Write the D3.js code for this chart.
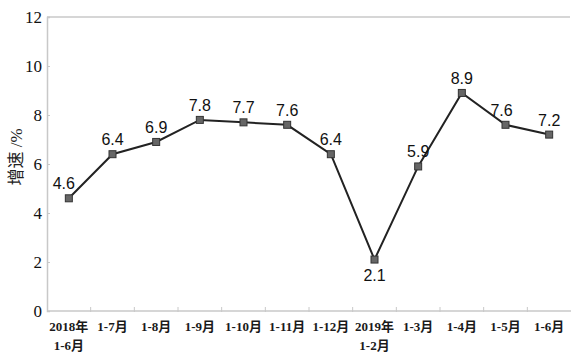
<!DOCTYPE html>
<html>
<head>
<meta charset="utf-8">
<script src="https://cdn.jsdelivr.net/npm/d3@7/dist/d3.min.js"></script>
<style>
  html, body { margin: 0; padding: 0; background: #fff; }
  svg { display: block; }
</style>
</head>
<body>
<svg id="chart" width="572" height="359"></svg>
<script>
// Cumulative growth rate by period
const periods = [
  ["2018年", "1-6月"], ["1-7月"], ["1-8月"], ["1-9月"], ["1-10月"], ["1-11月"],
  ["1-12月"], ["2019年", "1-2月"], ["1-3月"], ["1-4月"], ["1-5月"], ["1-6月"]
];
const growth = [4.6, 6.4, 6.9, 7.8, 7.7, 7.6, 6.4, 2.1, 5.9, 8.9, 7.6, 7.2];
const yTicks = [0, 2, 4, 6, 8, 10, 12];

const svg = d3.select("#chart");
const plot = { left: 47, right: 571, top: 17, bottom: 311 };

const x = d3.scaleBand().domain(d3.range(periods.length)).range([plot.left, plot.right]);
const y = d3.scaleLinear().domain([0, 12]).range([plot.bottom, plot.top]);
const cx = i => x(i) + x.bandwidth() / 2;

const axisColor = "#c8c8c8";
const serif = "'Liberation Serif', 'Noto Sans CJK SC', serif";

// top frame line
svg.append("line")
  .attr("x1", plot.left).attr("x2", plot.right - 1)
  .attr("y1", y(12)).attr("y2", y(12))
  .attr("stroke", axisColor).attr("stroke-width", 1.5);

// y axis
const yAxis = svg.append("g")
  .attr("transform", `translate(${plot.left},0)`)
  .call(d3.axisRight(y).tickValues(yTicks).tickSize(3).tickFormat(""));
yAxis.select(".domain").attr("stroke", axisColor).attr("stroke-width", 1.5);
yAxis.selectAll(".tick line").attr("stroke", axisColor);

svg.append("g").selectAll("text").data(yTicks).join("text")
  .attr("x", 42).attr("y", d => y(d))
  .attr("dy", "0.35em")
  .attr("text-anchor", "end")
  .attr("font-family", serif)
  .attr("font-size", 17)
  .attr("fill", "#111")
  .text(d => d);

// y axis title
svg.append("text")
  .attr("transform", "translate(22,157) rotate(-90)")
  .attr("text-anchor", "middle")
  .attr("font-family", serif)
  .attr("font-size", 17)
  .attr("fill", "#222")
  .text("增速 /%");

// x axis with ticks on the category boundaries
const xAxis = svg.append("g")
  .attr("transform", `translate(0,${plot.bottom})`);
xAxis.append("line")
  .attr("x1", plot.left).attr("x2", plot.right)
  .attr("stroke", axisColor).attr("stroke-width", 1.5);
xAxis.selectAll("line.tk").data(d3.range(1, periods.length)).join("line")
  .attr("class", "tk")
  .attr("x1", i => x(i)).attr("x2", i => x(i))
  .attr("y1", -4).attr("y2", 1)
  .attr("stroke", axisColor);

const xl = svg.append("g").selectAll("text").data(periods).join("text")
  .attr("x", (d, i) => cx(i))
  .attr("y", 331)
  .attr("text-anchor", "middle")
  .attr("font-family", serif)
  .attr("font-size", 13)
  .attr("font-weight", "bold")
  .attr("fill", "#1a1a1a");
xl.each(function(d) {
  const t = d3.select(this);
  d.forEach((line, k) => {
    t.append("tspan").attr("x", t.attr("x")).attr("dy", k === 0 ? 0 : 19).text(line);
  });
});

// line
svg.append("path")
  .datum(growth)
  .attr("d", d3.line().x((d, i) => cx(i)).y(d => y(d)))
  .attr("fill", "none")
  .attr("stroke", "#222")
  .attr("stroke-width", 2);

// markers
svg.append("g").selectAll("rect").data(growth).join("rect")
  .attr("x", (d, i) => cx(i) - 3.5)
  .attr("y", d => y(d) - 3.5)
  .attr("width", 7).attr("height", 7)
  .attr("fill", "#666")
  .attr("stroke", "#333")
  .attr("stroke-width", 1);

// value labels
const below = new Set([7]);
svg.append("g").selectAll("text").data(growth).join("text")
  .attr("x", (d, i) => cx(i) + (i === 0 ? -5 : i === 10 ? -4 : 0))
  .attr("y", (d, i) => below.has(i) ? y(d) + 21 : y(d) - 9)
  .attr("text-anchor", "middle")
  .attr("font-family", "'Liberation Sans', Arial, sans-serif")
  .attr("font-size", 16)
  .attr("fill", "#111")
  .text(d => d.toFixed(1));
</script>
</body>
</html>
